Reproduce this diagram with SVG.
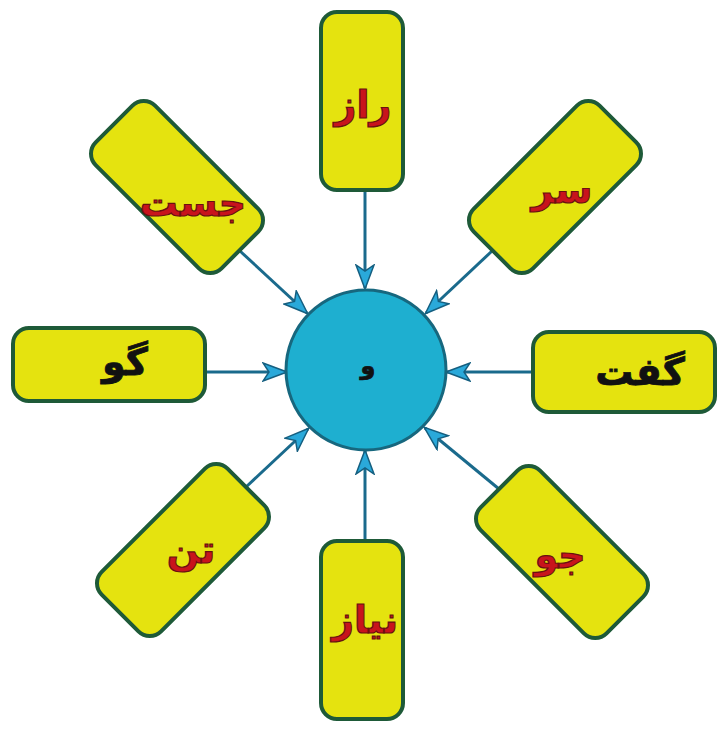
<svg xmlns="http://www.w3.org/2000/svg" width="721" height="729" viewBox="0 0 721 729">
<style>
.box{fill:#e5e30f;stroke:#1e5a38;stroke-width:4}
.lbl{font-family:"DejaVu Sans",sans-serif;font-weight:bold;font-size:38px;text-anchor:middle;dominant-baseline:central}
.red{fill:#c8141c;stroke:#6a1010;stroke-width:1.2}
.blk{fill:#111;stroke:#111;stroke-width:0.8}
.small{font-size:24px}
.con{stroke:#1a6a8c;stroke-width:3;fill:none;marker-end:url(#ah)}
</style>
<defs>
<marker id="ah" viewBox="0 0 26 20" refX="24" refY="10" markerWidth="26" markerHeight="20" markerUnits="userSpaceOnUse" orient="auto">
<path d="M1,1 L25,10 L1,19 L7,10 Z" fill="#2aa9da" stroke="#155f80" stroke-width="1.5"/>
</marker>
</defs>
<rect width="721" height="729" fill="#ffffff"/>
<g id="connectors">
<line class="con" x1="365" y1="191" x2="365" y2="288"/>
<line class="con" x1="365" y1="540" x2="365" y2="451"/>
<line class="con" x1="205" y1="372" x2="286" y2="372"/>
<line class="con" x1="532" y1="372" x2="447" y2="372"/>
<line class="con" x1="240" y1="251" x2="307" y2="313"/>
<line class="con" x1="492" y1="251" x2="426" y2="313"/>
<line class="con" x1="246" y1="487" x2="308" y2="429"/>
<line class="con" x1="499" y1="489" x2="425" y2="428"/>
</g>
<g id="center">
<circle cx="366" cy="370" r="80" fill="#1eafd0" stroke="#17677e" stroke-width="3"/>
<text class="lbl blk small" x="368" y="366">و</text>
</g>
<g id="n-raz">
<rect class="box" x="321" y="12" width="82" height="178" rx="16"/>
<text class="lbl red" x="363" y="105">راز</text>
</g>
<g id="n-niaz">
<rect class="box" x="321" y="541" width="82" height="178" rx="16"/>
<text class="lbl red" x="365" y="620">نیاز</text>
</g>
<g id="n-go">
<rect class="box" x="13" y="328" width="192" height="73" rx="16"/>
<text class="lbl blk" x="125" y="362">گو</text>
</g>
<g id="n-goft">
<rect class="box" x="533" y="332" width="182" height="80" rx="16"/>
<text class="lbl blk" x="640" y="372">گفت</text>
</g>
<g id="n-jost">
<rect class="box" x="-42" y="-89" width="84" height="178" rx="16" transform="translate(177,187) rotate(-45)"/>
<text class="lbl red" x="193" y="203">جست</text>
</g>
<g id="n-sar">
<rect class="box" x="-42" y="-89" width="84" height="178" rx="16" transform="translate(555,187) rotate(45)"/>
<text class="lbl red" x="562" y="190">سر</text>
</g>
<g id="n-tan">
<rect class="box" x="-42" y="-89" width="84" height="178" rx="16" transform="translate(183,550) rotate(45)"/>
<text class="lbl red" x="191" y="550">تن</text>
</g>
<g id="n-jo">
<rect class="box" x="-42" y="-89" width="84" height="178" rx="16" transform="translate(562,552) rotate(-45)"/>
<text class="lbl red" x="560" y="555">جو</text>
</g>
</svg>
